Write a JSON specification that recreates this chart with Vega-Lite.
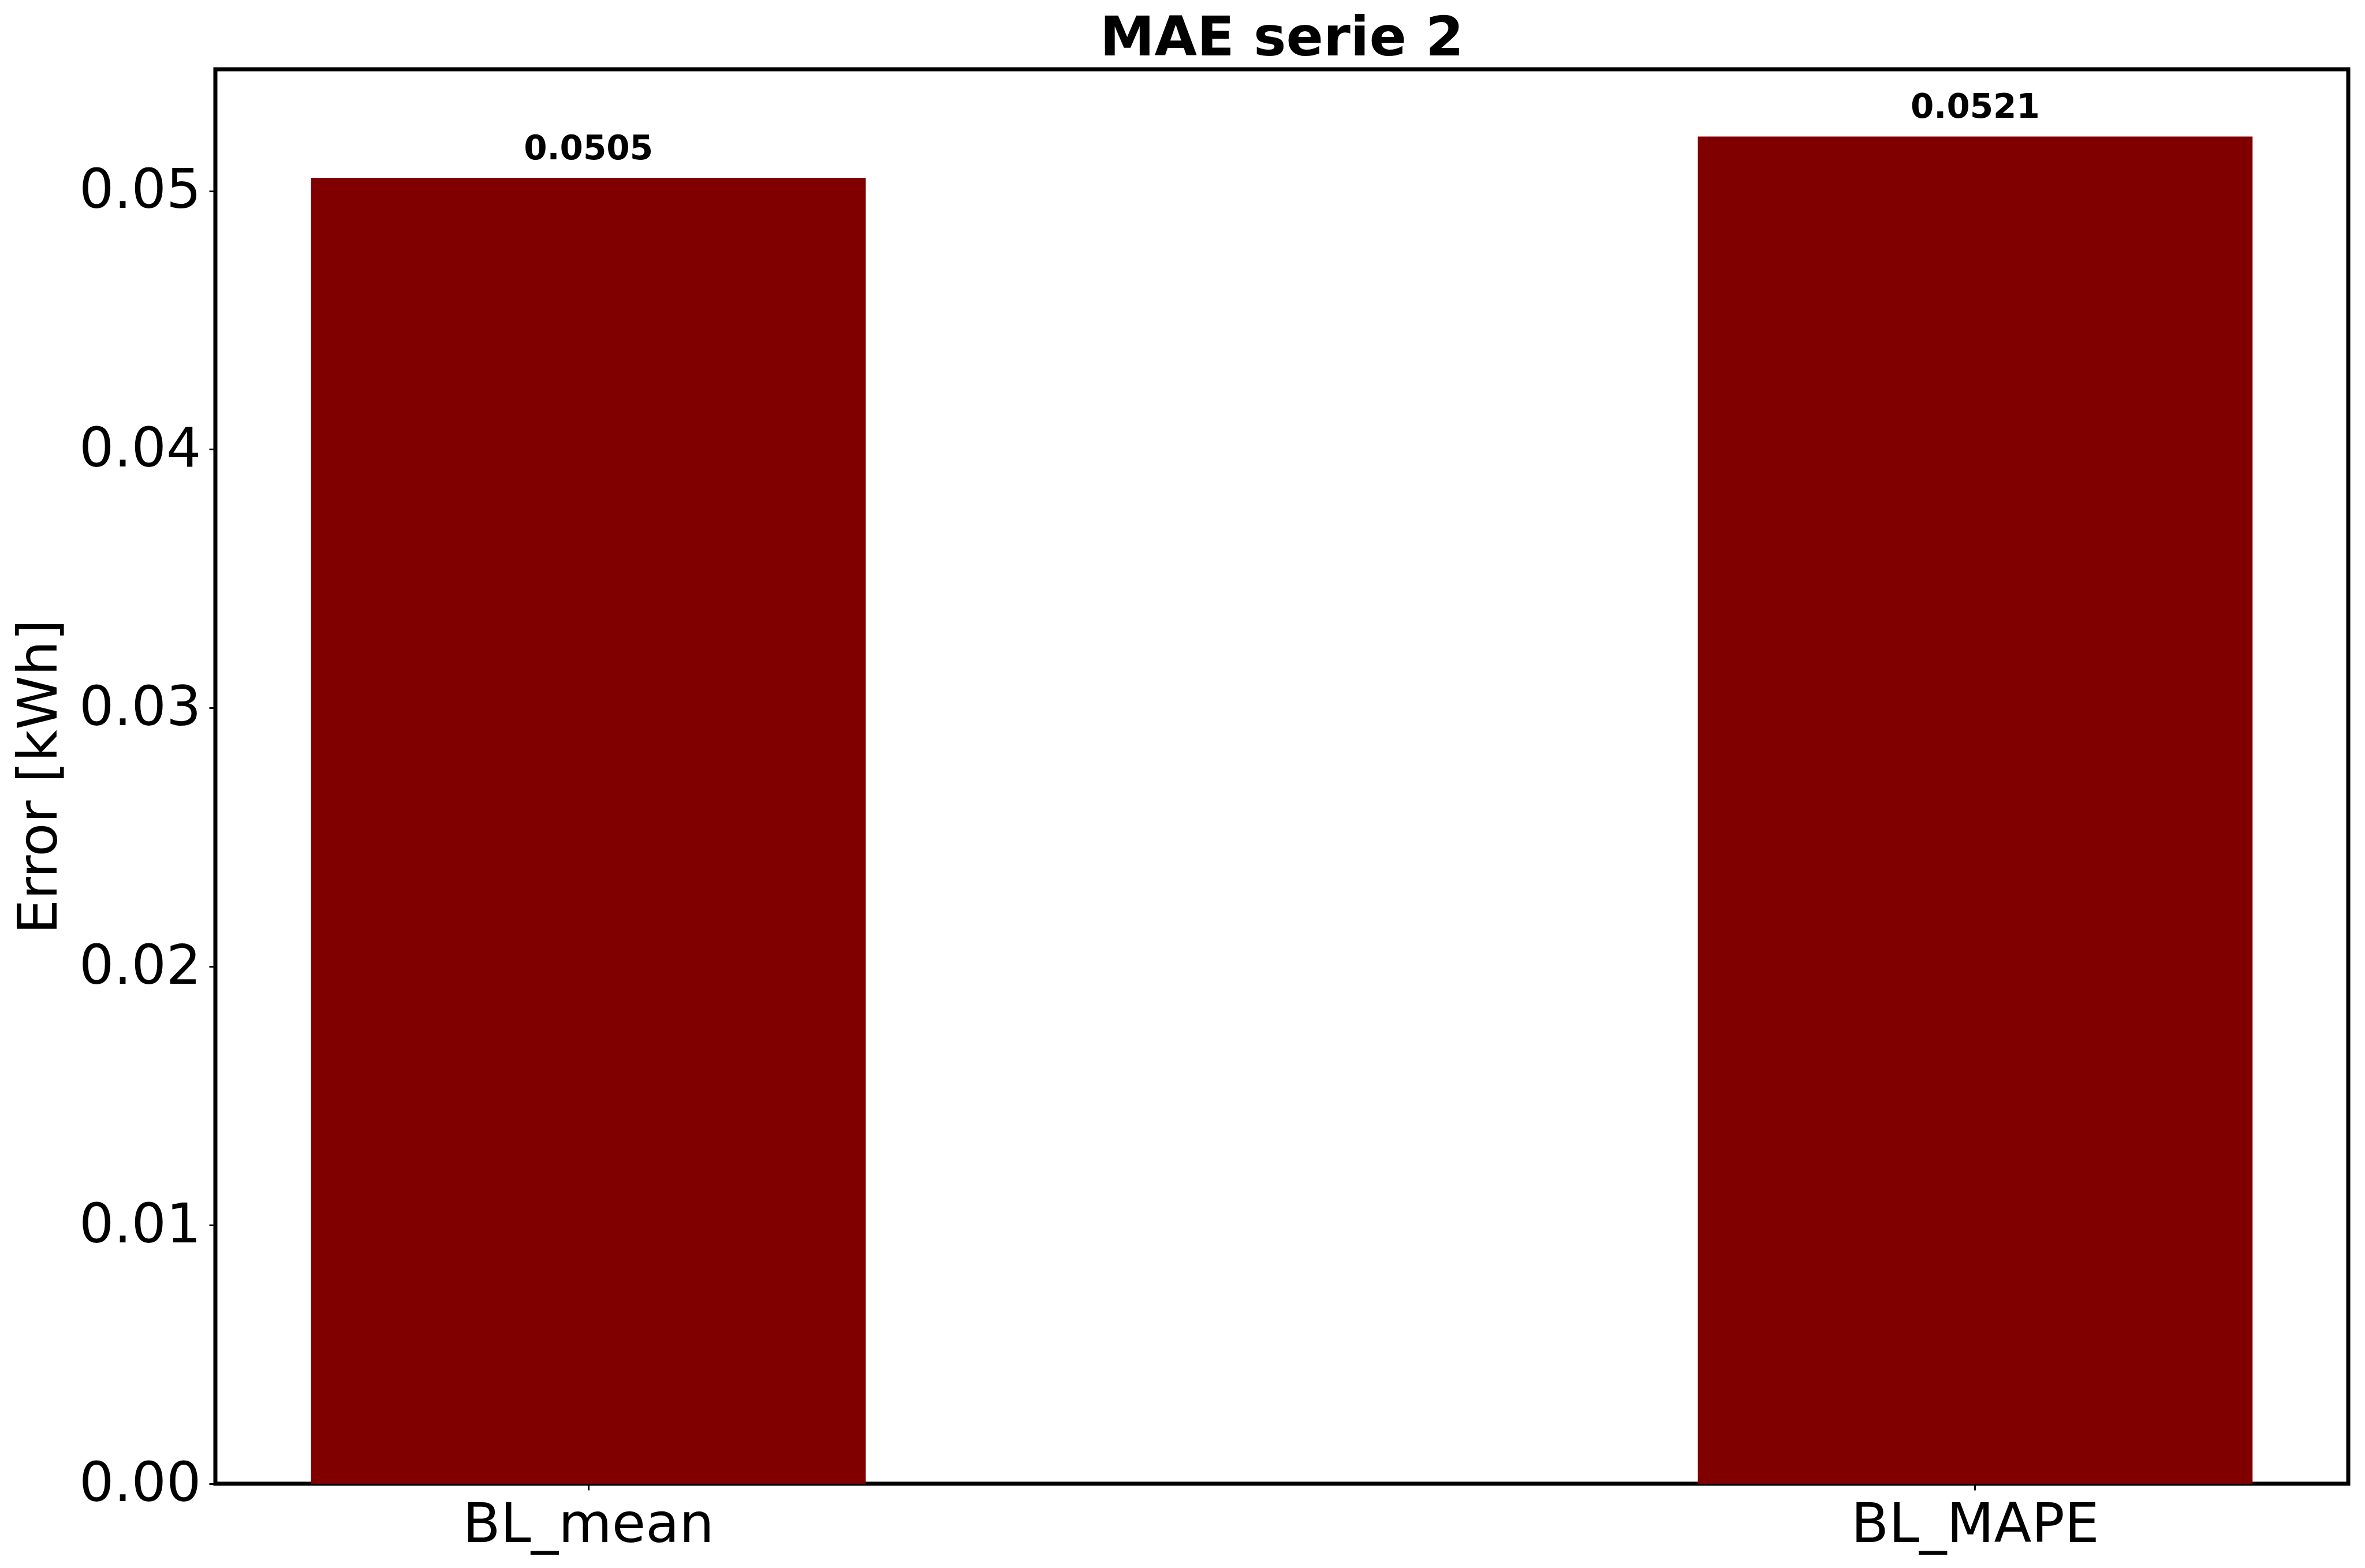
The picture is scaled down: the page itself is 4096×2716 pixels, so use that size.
{
  "$schema": "https://vega.github.io/schema/vega-lite/v6.json",
  "autosize": "none",
  "width": 3694,
  "height": 2450,
  "padding": {"left": 373, "top": 120, "right": 29, "bottom": 146},
  "background": "white",
  "title": {"text": "MAE serie 2", "font": "DejaVu Sans", "fontSize": 95, "fontWeight": "bold", "color": "black", "offset": 4, "anchor": "middle"},
  "config": {
    "view": {"stroke": "black", "strokeWidth": 7},
    "axis": {"labelFont": "DejaVu Sans", "titleFont": "DejaVu Sans", "labelColor": "black", "titleColor": "black", "tickColor": "black", "domain": false, "grid": false, "labelLimit": 2000}
  },
  "data": {"values": [
    {"model": "BL_mean", "mae": 0.0505, "label": "0.0505"},
    {"model": "BL_MAPE", "mae": 0.0521, "label": "0.0521"}
  ]},
  "encoding": {
    "x": {"field": "model", "type": "nominal", "sort": null,
      "scale": {"paddingInner": 0.6, "paddingOuter": 0.069},
      "axis": {"title": null, "labelAngle": 0, "labelFontSize": 95, "tickSize": 11, "tickWidth": 3, "labelPadding": 14}},
    "y": {"field": "mae", "type": "quantitative",
      "scale": {"domain": [0, 0.0547], "nice": false, "zero": true},
      "axis": {"title": "Error [kWh]", "titleFontSize": 95, "titleFontWeight": "normal", "labelFontSize": 95, "format": ".2f", "values": [0, 0.01, 0.02, 0.03, 0.04, 0.05], "tickSize": 11, "tickWidth": 3, "labelPadding": 14, "titleX": -276, "titleY": 1225, "titleAngle": -90, "titleBaseline": "alphabetic", "titleAlign": "center"}}
  },
  "layer": [
    {"mark": {"type": "bar", "color": "#800000"}},
    {"mark": {"type": "text", "font": "DejaVu Sans", "fontSize": 58, "fontWeight": "bold", "color": "black", "baseline": "alphabetic", "dy": -32},
     "encoding": {"text": {"field": "label"}}}
  ]
}
